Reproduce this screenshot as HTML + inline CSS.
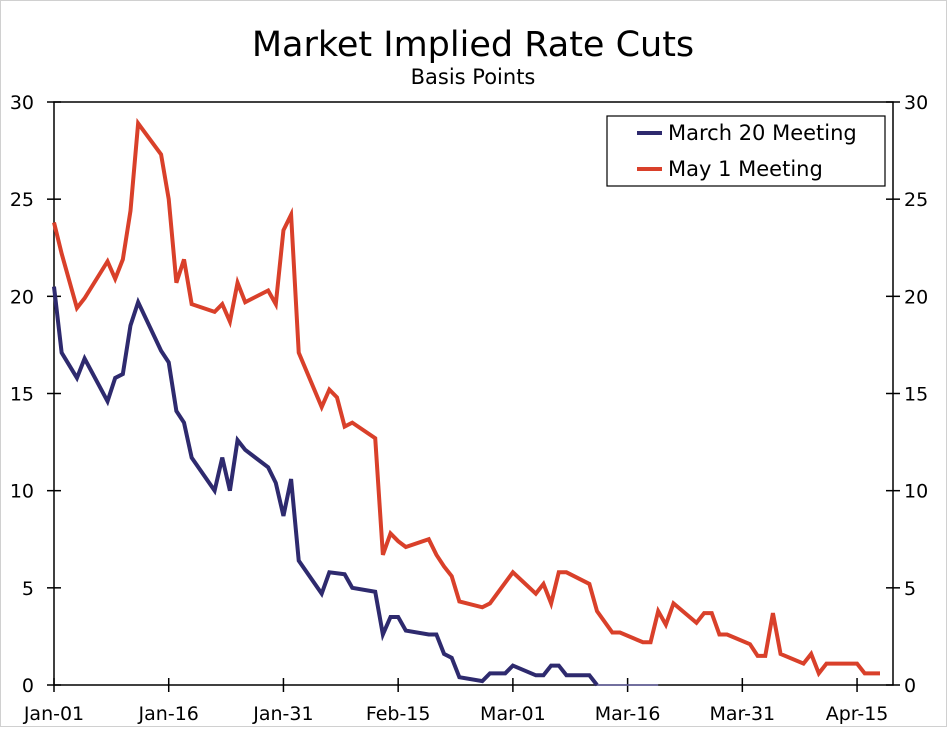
<!DOCTYPE html>
<html><head><meta charset="utf-8"><style>
body{margin:0;background:#fff;}
svg text{font-family:"DejaVu Sans","Liberation Sans",sans-serif;fill:#000;}
</style></head><body>
<svg width="947" height="727" id="c">
<rect x="0.5" y="0.5" width="946" height="726" fill="#fff" stroke="#d0d0d0"/>
<text x="473" y="56" font-size="35" text-anchor="middle">Market Implied Rate Cuts</text>
<text x="473" y="84" font-size="21" text-anchor="middle">Basis Points</text>
<g id="axes"></g>
<g id="series"></g>
<g>
<rect x="607" y="116" width="278" height="70" fill="#fff" stroke="#000" stroke-width="1.2"/>
<line x1="637" y1="133" x2="662" y2="133" stroke="#2e2a6e" stroke-width="4"/>
<text x="668" y="140" font-size="21">March 20 Meeting</text>
<line x1="637" y1="169" x2="662" y2="169" stroke="#d9402a" stroke-width="4"/>
<text x="668" y="176" font-size="21">May 1 Meeting</text>
</g>
</svg>
<script>
const yTicks=[0,5,10,15,20,25,30];
const xTickDays=[0,15,30,45,60,75,90,105];
const xTickLabels=["Jan-01","Jan-16","Jan-31","Feb-15","Mar-01","Mar-16","Mar-31","Apr-15"];
const mayDays=[0,1,3,4,7,8,9,10,11,14,15,16,17,18,21,22,23,24,25,28,29,30,31,32,35,36,37,38,39,42,43,44,45,46,49,50,51,52,53,56,57,60,63,64,65,66,67,70,71,73,74,77,78,79,80,81,84,85,86,87,88,91,92,93,94,95,98,99,100,101,105,106,108];
const mayVals=[23.8,22.2,19.4,19.9,21.8,20.9,21.9,24.4,28.9,27.3,25.0,20.7,21.9,19.6,19.2,19.6,18.7,20.7,19.7,20.3,19.6,23.4,24.2,17.1,14.3,15.2,14.8,13.3,13.5,12.7,6.7,7.8,7.4,7.1,7.5,6.7,6.1,5.6,4.3,4.0,4.2,5.8,4.7,5.2,4.2,5.8,5.8,5.2,3.8,2.7,2.7,2.2,2.2,3.8,3.1,4.2,3.2,3.7,3.7,2.6,2.6,2.1,1.5,1.5,3.7,1.6,1.1,1.6,0.6,1.1,1.1,0.6,0.6];
const marDays=[0,1,3,4,7,8,9,10,11,14,15,16,17,18,21,22,23,24,25,28,29,30,31,32,35,36,38,39,42,43,44,45,46,49,50,51,52,53,56,57,59,60,63,64,65,66,67,70,71];
const marVals=[20.5,17.1,15.8,16.8,14.6,15.8,16.0,18.5,19.7,17.2,16.6,14.1,13.5,11.7,10.0,11.7,10.0,12.6,12.1,11.2,10.4,8.7,10.6,6.4,4.7,5.8,5.7,5.0,4.8,2.6,3.5,3.5,2.8,2.6,2.6,1.6,1.4,0.4,0.2,0.6,0.6,1.0,0.5,0.5,1.0,1.0,0.5,0.5,0.0];
const marTailDays=[71,79];
const marTailVals=[0,0];
const NS="http://www.w3.org/2000/svg";
const L=54,R=893,T=102,B=685;
const xs=d=>L+d*(R-L)/109.7;
const ys=v=>B-v*(B-T)/30;
const ax=document.getElementById('axes');
function mk(tag,attrs,parent){const e=document.createElementNS(NS,tag);for(const k in attrs)e.setAttribute(k,attrs[k]);parent.appendChild(e);return e;}
let fr=mk('rect',{x:L,y:T,width:R-L,height:B-T,fill:'none',stroke:'#000','stroke-width':1.5},ax);


yTicks.forEach(v=>{
 const y=ys(v);
 let t1=mk('line',{x1:L-7,x2:L+7,y1:y,y2:y,stroke:'#000','stroke-width':1.5},ax);
 
 
 let t2=mk('line',{x1:R-7,x2:R+7,y1:y,y2:y,stroke:'#000','stroke-width':1.5},ax);
 
 
 let a=mk('text',{x:34,y:y+7,'font-size':19,'text-anchor':'end'},ax);a.textContent=v;
 
 
 let b=mk('text',{x:904,y:y+7,'font-size':19},ax);b.textContent=v;
 
 
});
xTickDays.forEach((d,i)=>{
 const x=xs(d);
 let t=mk('line',{x1:x,x2:x,y1:B-7,y2:B+7,stroke:'#000','stroke-width':1.5},ax);
 
 
 let a=mk('text',{x:x,y:720,'font-size':19,'text-anchor':'middle'},ax);a.textContent=xTickLabels[i];
 
 
});
const sg=document.getElementById('series');
function line(days,vals,color,w,name){
 const p=mk('polyline',{points:days.map((d,i)=>xs(d)+','+ys(vals[i])).join(' '),fill:'none',stroke:color,'stroke-width':w,'stroke-linejoin':'miter'},sg);
 
 
}
line(marTailDays,marTailVals,'#6e6aa8',1.5,'march-20-tail-line');
line(mayDays,mayVals,'#d9402a',4,'may-1-meeting-line');
line(marDays,marVals,'#2e2a6e',4,'march-20-meeting-line');
</script>
</body></html>
